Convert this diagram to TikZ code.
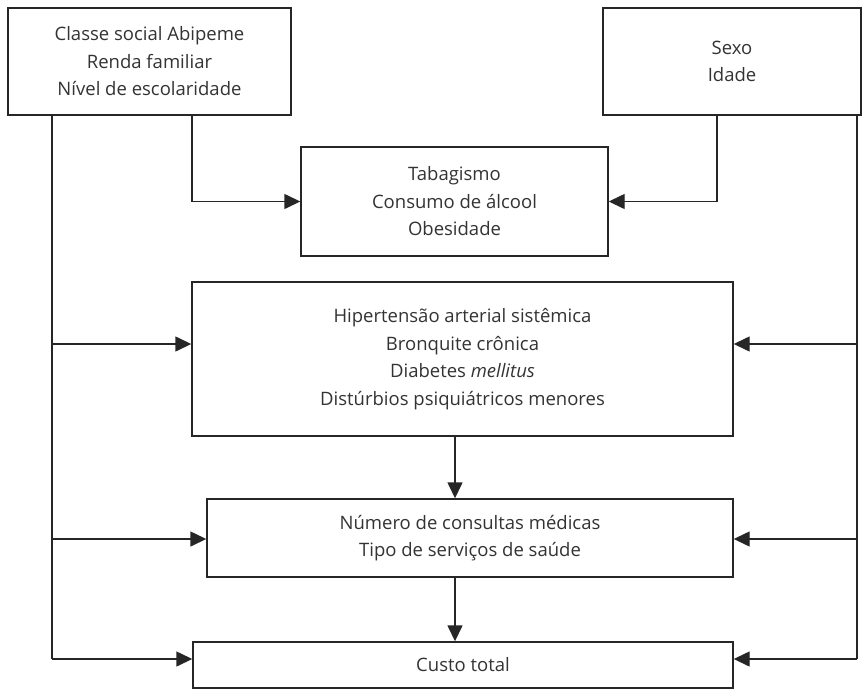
\documentclass[tikz,border=0pt]{standalone}
\usepackage{fontspec}
\setmainfont{Open Sans}
\usetikzlibrary{arrows.meta}
\begin{document}
\begin{tikzpicture}[x=1pt,y=-1pt,
  box/.style={draw=black!85, line width=1.4pt, inner sep=0pt, align=center,
    text=black!80, font=\fontsize{18.5}{27.5}\selectfont},
  link/.style={draw=black!85, line width=1.4pt,
    -{Triangle[length=16pt,width=15pt]}},
  plain/.style={draw=black!85, line width=1.4pt}]
\useasboundingbox (0,0) rectangle (867,688);

% boxes
\node[box, minimum width=283pt, minimum height=107pt] (A) at (149.5,61.5)
  {Classe social Abipeme\\Renda familiar\\Nível de escolaridade};
\node[box, minimum width=258pt, minimum height=107pt] (B) at (732,61.5)
  {Sexo\\Idade};
\node[box, minimum width=307pt, minimum height=109pt] (C) at (454.5,201.5)
  {Tabagismo\\Consumo de álcool\\Obesidade};
\node[box, minimum width=541pt, minimum height=154pt] (D) at (462.5,359)
  {Hipertensão arterial sistêmica\\Bronquite crônica\\Diabetes \textit{mellitus}\\Distúrbios psiquiátricos menores};
\node[box, minimum width=526pt, minimum height=78pt] (E) at (470,538)
  {Número de consultas médicas\\Tipo de serviços de saúde};
\node[box, minimum width=540pt, minimum height=46pt] (F) at (463,665)
  {Custo total};

% junction points on the outer rails
\coordinate (aL) at (52,115);
\coordinate (aR) at (192,115);
\coordinate (bL) at (717,115);
\coordinate (bR) at (857,115);
\coordinate (aLend) at (52,659);
\coordinate (bRend) at (857,659);

% upper feeders into the lifestyle box
\draw[link] (aR) |- (C.west);
\draw[link] (bL) |- (C.east);

% left rail
\draw[plain] (aL) -- (aLend);
\draw[link] (52,344) -- (D.west |- 0,344);
\draw[link] (52,539) -- (E.west |- 0,539);
\draw[link] (aLend) -- (F.west |- aLend);

% right rail
\draw[plain] (bR) -- (bRend);
\draw[link] (857,344) -- (D.east |- 0,344);
\draw[link] (857,539) -- (E.east |- 0,539);
\draw[link] (bRend) -- (F.east |- bRend);

% vertical chain
\draw[link] (D.south -| 455,0) -- (E.north -| 455,0);
\draw[link] (E.south -| 455,0) -- (F.north -| 455,0);
\end{tikzpicture}
\end{document}
